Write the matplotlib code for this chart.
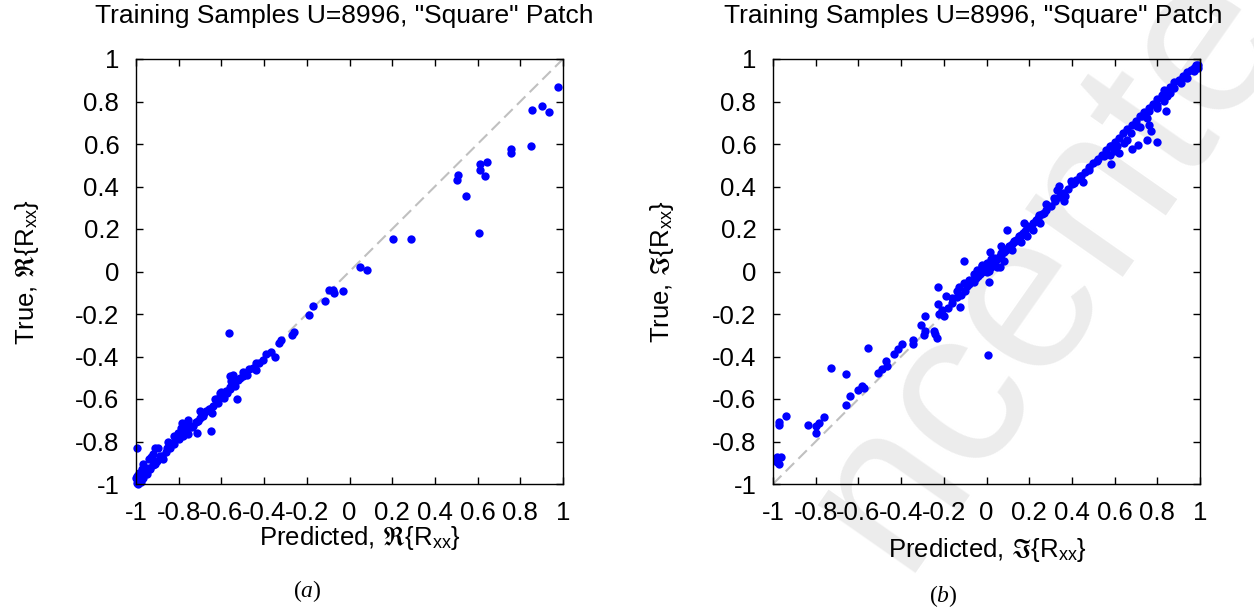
import matplotlib
matplotlib.use("Agg")
import matplotlib.pyplot as plt

# data (predicted vs true)
pred_re = [0.975, 0.855, 0.90, 0.934, 0.852, 0.756, 0.755, 0.609, 0.645, 0.612, 0.637, 0.509,
           0.505, 0.545, 0.606, 0.205, 0.289, 0.05, 0.083, -0.030, -0.078, -0.072, -0.097,
           -0.117, -0.172, -0.192, -0.259, -0.270, -0.566, -0.322, -0.331, -0.347, -0.369,
           -0.391, -0.406, -0.422, -0.438, -0.450, -0.478, -0.497, -0.513, -0.548, -0.559,
           -0.525, -0.536, -0.559, -0.575, -0.606, -0.590, -0.614, -0.638, -0.653, -0.672,
           -0.645, -0.648, -0.684, -0.708, -0.755, -0.783, -0.716, -0.755, -0.802, -0.809,
           -0.833, -0.856, -0.895, -0.911, -0.931, -0.888, -0.911, -0.934, -0.969, -0.997,
           -0.958, -0.981, -0.997, -0.997, -0.966, -0.950, -0.872, -0.778, -0.731,
           -0.62, -0.60, -0.58, -0.56, -0.54, -0.52, -0.50, -0.47, -0.44, -0.66, -0.68, -0.70,
           -0.72, -0.74, -0.76, -0.78, -0.80, -0.82, -0.84, -0.86, -0.88, -0.90, -0.92, -0.94,
           -0.96, -0.98, -0.99, -0.985, -0.97, -0.94, -0.76, -0.79, -0.70, -0.69, -0.555,
           -0.60, -0.63, -0.995, -0.99, -0.975, -1.0, -0.82, -0.85, -0.92]
true_re = [0.867, 0.760, 0.777, 0.751, 0.589, 0.577, 0.556, 0.508, 0.516, 0.480, 0.448, 0.456,
           0.431, 0.353, 0.179, 0.154, 0.155, 0.019, 0.006, -0.091, -0.085, -0.103, -0.088,
           -0.138, -0.160, -0.207, -0.285, -0.298, -0.288, -0.324, -0.335, -0.404, -0.379,
           -0.390, -0.417, -0.429, -0.464, -0.453, -0.489, -0.473, -0.500, -0.487, -0.492,
           -0.602, -0.539, -0.555, -0.571, -0.574, -0.594, -0.618, -0.633, -0.649, -0.657,
           -0.665, -0.752, -0.680, -0.704, -0.701, -0.715, -0.759, -0.766, -0.759, -0.782,
           -0.806, -0.829, -0.829, -0.832, -0.871, -0.868, -0.907, -0.931, -0.907, -0.832,
           -0.947, -0.962, -0.978, -0.994, -0.970, -0.955, -0.884, -0.774, -0.727,
           -0.60, -0.58, -0.56, -0.545, -0.53, -0.51, -0.49, -0.46, -0.43, -0.645, -0.665, -0.69,
           -0.71, -0.73, -0.745, -0.765, -0.79, -0.81, -0.83, -0.85, -0.87, -0.89, -0.91, -0.925,
           -0.94, -0.965, -0.985, -0.95, -0.93, -0.88, -0.72, -0.735, -0.655, -0.67, -0.515,
           -0.565, -0.60, -0.96, -1.0, -0.99, -0.97, -0.775, -0.80, -0.86]

pred_im = [0.991, 0.972, 0.941, 0.909, 0.878, 0.831, 0.847, 0.831, 0.839, 0.80, 0.761, 0.730,
           0.753, 0.761, 0.769, 0.706, 0.675, 0.753, 0.797, 0.711, 0.683, 0.644, 0.6125, 0.620,
           0.597, 0.581, 0.581, 0.55, 0.519, 0.48, 0.441, 0.409, 0.394, 0.339, 0.328, 0.3625,
           0.370, 0.316, 0.281, 0.269, 0.245, 0.230, 0.175, 0.191, 0.219, 0.097, 0.191, 0.152,
           0.128, 0.105, 0.081, 0.066, 0.016, 0.034, 0.003, -0.020, -0.044, 0.011, 0.011, 0.0625,
           -0.106, -0.059, -0.083, -0.106, -0.13, -0.1375, -0.125, -0.161, -0.192, -0.227,
           -0.227, -0.208, -0.223, -0.2, -0.289, -0.309, -0.286, -0.294, -0.247, -0.239, -0.231,
           -0.344, -0.344, -0.395, -0.416, -0.434, -0.555, -0.473, -0.466, -0.489, -0.509,
           -0.727, -0.656, 0.005, -0.583, -0.603, -0.575, -0.6375, -0.656, -0.7625, -0.786,
           -0.797, -0.836, -0.797, -0.939, -0.970, -0.970, -0.961, -0.981, -0.973, -0.981,
           -0.18, -0.16, -0.14, -0.12, -0.10, -0.09, -0.08, -0.06, -0.05, -0.04, -0.03, -0.02,
           -0.01, 0.0, 0.01, 0.02, 0.03, 0.04, 0.05, 0.06, 0.07, 0.08, 0.09, 0.10, 0.11, 0.12,
           0.13, 0.14, 0.15, 0.16, 0.17, 0.18, 0.20, 0.22, 0.24, 0.26, 0.28, 0.30, 0.32, 0.34,
           0.36, 0.38, 0.40, 0.42, 0.44, 0.46, 0.48, 0.50, 0.52, 0.54, 0.56, 0.58, 0.60, 0.62,
           0.64, 0.66, 0.68, 0.70, 0.72, 0.74, 0.76, 0.78, 0.80, 0.82, 0.84, 0.86, 0.88, 0.90,
           0.92, 0.94, 0.96, 0.98, 0.97, 0.99,
           0.05, 0.08, 0.12, 0.02, -0.02, 0.07, 0.16, 0.25, 0.45, 0.58, 0.66, 0.72, 0.80, 0.86]
true_im = [0.958, 0.942, 0.911, 0.887, 0.864, 0.856, 0.824, 0.801, 0.754, 0.785, 0.754, 0.730,
           0.723, 0.691, 0.660, 0.683, 0.652, 0.621, 0.610, 0.597, 0.578, 0.605, 0.589, 0.558,
           0.566, 0.589, 0.508, 0.542, 0.519, 0.480, 0.448, 0.417, 0.428, 0.404, 0.382, 0.331,
           0.354, 0.346, 0.320, 0.276, 0.268, 0.241, 0.229, 0.216, 0.194, 0.193, 0.166, 0.166,
           0.143, 0.119, 0.103, 0.088, 0.091, 0.064, 0.041, 0.025, 0.009, 0.002, -0.049, 0.022,
           0.049, -0.014, -0.038, -0.053, -0.072, -0.093, -0.166, -0.124, -0.116, -0.074,
           -0.155, -0.179, -0.199, -0.21, -0.21, -0.254, -0.281, -0.301, -0.281, -0.296, -0.312,
           -0.324, -0.343, -0.343, -0.367, -0.390, -0.360, -0.422, -0.445, -0.458, -0.476,
           -0.453, -0.480, -0.395, -0.539, -0.558, -0.547, -0.586, -0.630, -0.683, -0.712,
           -0.727, -0.724, -0.759, -0.680, -0.708, -0.722, -0.871, -0.871, -0.907, -0.897,
           -0.17, -0.15, -0.12, -0.11, -0.09, -0.07, -0.06, -0.05, -0.03, -0.02, -0.01, 0.0,
           0.01, 0.0, 0.03, 0.02, 0.04, 0.05, 0.06, 0.07, 0.08, 0.09, 0.10, 0.11, 0.12, 0.13,
           0.14, 0.15, 0.16, 0.17, 0.18, 0.19, 0.21, 0.23, 0.25, 0.27, 0.29, 0.31, 0.33, 0.35,
           0.37, 0.39, 0.41, 0.43, 0.45, 0.47, 0.49, 0.51, 0.53, 0.55, 0.57, 0.59, 0.61, 0.63,
           0.65, 0.67, 0.69, 0.71, 0.73, 0.75, 0.77, 0.79, 0.81, 0.83, 0.85, 0.87, 0.89, 0.90,
           0.92, 0.94, 0.95, 0.97, 0.96, 0.97,
           0.02, 0.05, 0.10, 0.06, 0.03, 0.12, 0.14, 0.23, 0.42, 0.55, 0.62, 0.68, 0.77, 0.84]

ticks = [-1, -0.8, -0.6, -0.4, -0.2, 0, 0.2, 0.4, 0.6, 0.8, 1]
tick_labels = ["-1", "-0.8", "-0.6", "-0.4", "-0.2", "0", "0.2", "0.4", "0.6", "0.8", "1"]
title = 'Training Samples U=8996, "Square" Patch'

plt.rcParams["font.family"] = ["Liberation Sans", "DejaVu Sans"]
plt.rcParams["mathtext.fontset"] = "custom"
plt.rcParams["mathtext.rm"] = "Liberation Sans"
plt.rcParams["mathtext.it"] = "Liberation Serif:italic"
plt.rcParams["mathtext.fallback"] = "stix"

W, H = 1254, 612
fig = plt.figure(figsize=(W / 100, H / 100), dpi=100)


def px(x, y):
    return x / W, 1 - y / H


# light watermark behind everything
fig.text(*px(900, 574), "ncenter", fontsize=162, color="#ececec", rotation=55,
         rotation_mode="anchor", ha="left", va="baseline", zorder=-10)

panels = [
    (136, pred_re, true_re, r"$\Re$", 344, 27, 360, 538),
    (773, pred_im, true_im, r"$\Im$", 973, 662, 987, 550),
]

for left, xs, ys, sym, tx, yx, lx, ly in panels:
    ax = fig.add_axes([left / W, 128 / H, 427 / W, 425 / H])
    ax.set_facecolor("none")
    ax.plot([-1, 1], [-1, 1], color="#c0c0c0", lw=1.5, ls=(0, (5.7, 2.9)), zorder=1)
    ax.scatter(xs, ys, s=36, color="#0000ff", linewidths=0, zorder=2, clip_on=False)
    ax.set_xlim(-1, 1)
    ax.set_ylim(-1, 1)
    ax.set_xticks(ticks)
    ax.set_xticklabels(tick_labels)
    ax.set_yticks(ticks)
    ax.set_yticklabels(tick_labels)
    ax.tick_params(direction="in", top=True, right=True, length=5, width=1,
                   labelsize=18.5, pad=12)
    for sp in ax.spines.values():
        sp.set_linewidth(1.0)

    fig.text(*px(tx, 23), title, fontsize=19, ha="center", va="baseline")
    fig.text(*px(lx, ly), "Predicted, " + sym + r"{R$_{\mathregular{xx}}$}",
             fontsize=18.5, ha="center", va="center")
    fig.text(*px(yx, 272), "True, " + sym + r"{R$_{\mathregular{xx}}$}",
             fontsize=18.5, ha="center", va="center", rotation=90)

fig.text(*px(307, 591), r"($\mathit{a}$)", fontsize=17, family="Liberation Serif",
         ha="center", va="center")
fig.text(*px(943, 596), r"($\mathit{b}$)", fontsize=17, family="Liberation Serif",
         ha="center", va="center")

fig.savefig("out.png", dpi=100)
